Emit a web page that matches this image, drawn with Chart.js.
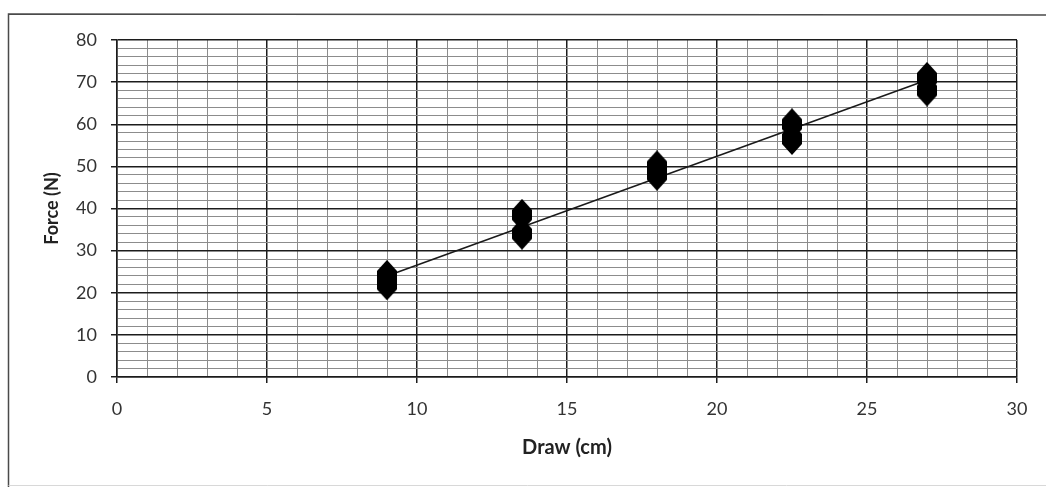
<!DOCTYPE html>
<html>
<head>
<meta charset="utf-8">
<title>Force vs Draw</title>
<script src="https://cdn.jsdelivr.net/npm/chart.js@4.4.1/dist/chart.umd.min.js"></script>
<style>
    html, body { margin: 0; padding: 0; background: #fff; }
    #wrap { width: 1046px; height: 487px; }
</style>
</head>
<body>
<div id="wrap"><canvas id="forceChart" width="1046" height="487"></canvas></div>
<script>
// measured points (two readings per draw length)
const drawCm = [9, 9, 13.5, 13.5, 18, 18, 22.5, 22.5, 27, 27];
const forceN = [24, 22, 38.5, 34, 50, 48, 60, 56.5, 71, 68];

// trendline ends
const trendDraw = [9, 27];
const trendForce = [24, 70.5];

// labelled ticks
const xLabels = [0, 5, 10, 15, 20, 25, 30];
const yLabels = [0, 10, 20, 30, 40, 50, 60, 70, 80];

const xMinorStep = 1;
const yMinorStep = 2;

const majorColor = '#1c1c1c';
const minorColor = '#8c8c8c';
const textColor = '#333';
const fontFamily = 'Lato, "Open Sans", sans-serif';

function gridTicks(min, max, step) {
    const out = [];
    for (let v = min; v <= max + 1e-9; v += step) out.push({ value: v });
    return out;
}

// elongated diamond used as the marker
const diamond = document.createElement('canvas');
diamond.width = 24;
diamond.height = 32;
const dctx = diamond.getContext('2d');
dctx.fillStyle = '#000';
dctx.beginPath();
dctx.moveTo(12, 0);
dctx.lineTo(22, 11);
dctx.lineTo(22, 21);
dctx.lineTo(12, 32);
dctx.lineTo(2, 21);
dctx.lineTo(2, 11);
dctx.closePath();
dctx.fill();

const framePlugin = {
    id: 'frame',
    beforeDraw(chart) {
        const ctx = chart.ctx;
        ctx.save();
        ctx.fillStyle = '#fff';
        ctx.fillRect(0, 0, chart.width, chart.height);
        ctx.restore();
    },
    afterDraw(chart) {
        const ctx = chart.ctx;
        ctx.save();
        ctx.strokeStyle = '#4a4a4a';
        ctx.lineWidth = 1.5;
        ctx.beginPath();
        ctx.moveTo(8.5, 487);
        ctx.lineTo(8.5, 14);
        ctx.lineTo(1046, 15);
        ctx.stroke();
        ctx.strokeStyle = '#d8d8d8';
        ctx.lineWidth = 1;
        ctx.beginPath();
        ctx.moveTo(8.5, 485.5);
        ctx.lineTo(1046, 485.5);
        ctx.stroke();
        ctx.restore();
    }
};

const isMajor = (v, every) => Math.abs(v / every - Math.round(v / every)) < 1e-6;

new Chart(document.getElementById('forceChart'), {
    type: 'scatter',
    data: {
        datasets: [
            {
                label: 'Force',
                data: drawCm.map((x, i) => ({ x, y: forceN[i] })),
                pointStyle: diamond,
                pointRadius: 12,
                backgroundColor: '#000',
                borderColor: '#000',
                showLine: false,
                order: 0
            },
            {
                label: 'Trend',
                data: trendDraw.map((x, i) => ({ x, y: trendForce[i] })),
                showLine: true,
                borderColor: '#1a1a1a',
                borderWidth: 1.6,
                pointRadius: 0,
                order: 1
            }
        ]
    },
    options: {
        responsive: false,
        animation: false,
        devicePixelRatio: 1,
        layout: { padding: { left: 30, right: 29, top: 40, bottom: 20 } },
        plugins: {
            legend: { display: false },
            tooltip: { enabled: false }
        },
        scales: {
            x: {
                type: 'linear',
                min: 0,
                max: 30,
                afterBuildTicks: (scale) => { scale.ticks = gridTicks(0, 30, xMinorStep); },
                afterFit: (scale) => { scale.height = 90; },
                ticks: {
                    autoSkip: false,
                    maxRotation: 0,
                    padding: 15,
                    color: textColor,
                    font: { family: fontFamily, size: 18 },
                    callback: (v) => xLabels.includes(v) ? String(v) : ''
                },
                grid: {
                    color: (c) => isMajor(c.tick.value, 5) ? majorColor : minorColor,
                    lineWidth: (c) => isMajor(c.tick.value, 5) ? 1.5 : 1,
                    tickColor: (c) => isMajor(c.tick.value, 5) ? majorColor : 'rgba(0,0,0,0)',
                    tickLength: 6
                },
                border: { color: majorColor, width: 1.5 },
                title: {
                    display: true,
                    text: 'Draw (cm)',
                    color: '#222',
                    font: { family: fontFamily, size: 20, weight: 'bold' },
                    padding: { top: 7, bottom: 7 }
                }
            },
            y: {
                type: 'linear',
                min: 0,
                max: 80,
                afterBuildTicks: (scale) => { scale.ticks = gridTicks(0, 80, yMinorStep); },
                afterFit: (scale) => { scale.width = 87; },
                ticks: {
                    autoSkip: false,
                    padding: 14,
                    color: textColor,
                    font: { family: fontFamily, size: 18 },
                    callback: (v) => yLabels.includes(v) ? String(v) : ''
                },
                grid: {
                    color: (c) => isMajor(c.tick.value, 10) ? majorColor : minorColor,
                    lineWidth: (c) => isMajor(c.tick.value, 10) ? 1.5 : 1,
                    tickColor: (c) => isMajor(c.tick.value, 10) ? majorColor : 'rgba(0,0,0,0)',
                    tickLength: 6
                },
                border: { color: majorColor, width: 1.5 },
                title: {
                    display: true,
                    text: 'Force (N)',
                    color: '#222',
                    font: { family: fontFamily, size: 18, weight: 'bold' },
                    padding: { top: 11, bottom: 11 }
                }
            }
        }
    },
    plugins: [framePlugin]
});
</script>
</body>
</html>
